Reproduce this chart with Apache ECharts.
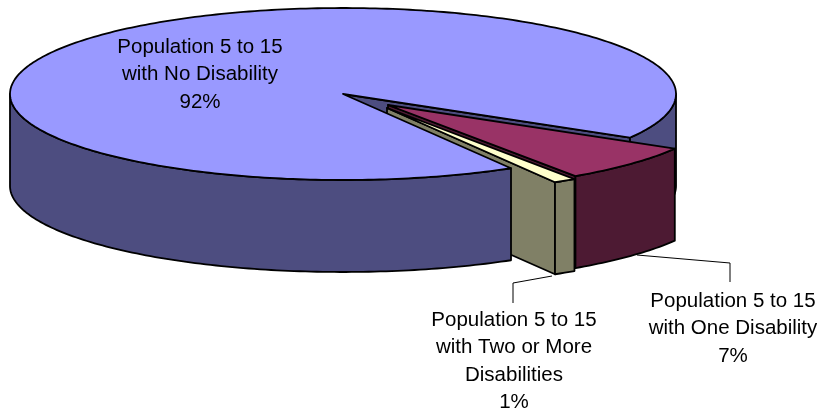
<!DOCTYPE html>
<html>
<head>
<meta charset="utf-8">
<style>html,body{margin:0;padding:0;background:#fff}#c{width:817px;height:413px}</style>
<script src="https://cdn.jsdelivr.net/npm/echarts@6/dist/echarts.min.js"></script>
</head>
<body>
<div id="c"></div>
<script>
// Data
const categories = ['Population 5 to 15\nwith No Disability', 'Population 5 to 15\nwith One Disability', 'Population 5 to 15\nwith Two or More\nDisabilities'];
const shares = [91.9, 7.0, 1.1];
const percentLabels = ['92%', '7%', '1%'];

// Style and layout
const topColors = ['#9999FF', '#993366', '#FFFFCC'];
const wallColors = ['#4D4D80', '#4D1A33', '#808066'];
const G = {cx: 343, cy: 94, rx: 333, ry: 86, depth: 92, start: 59.7};
const offsets = [[0, 0], [45, 11], [44, 14]];
const labelPos = [[200, 74.5], [733, 328.5], [514, 361.5]];
const leaders = [null, [[730, 282], [730, 263], [637, 255]], [[513, 303], [513, 283], [552, 276]]];
const total = shares.reduce((a, b) => a + b, 0);
const ranges = [];
shares.reduce((acc, v) => { const e = acc + v / total * 360; ranges.push([acc, e]); return e; }, G.start);

function pt(i, deg, down) {
  const t = deg * Math.PI / 180;
  return [G.cx + offsets[i][0] + G.rx * Math.cos(t), G.cy + offsets[i][1] + G.ry * Math.sin(t) + (down || 0)];
}
function apex(i, down) { return [G.cx + offsets[i][0], G.cy + offsets[i][1] + (down || 0)]; }
function arc(i, a, b, down) {
  const out = [], n = Math.max(2, Math.ceil(Math.abs(b - a)));
  for (let k = 0; k <= n; k++) out.push(pt(i, a + (b - a) * k / n, down));
  return out;
}
const lineStyle = {stroke: '#000', lineWidth: 1.8, lineJoin: 'round'};
function poly(points, fill) {
  return {type: 'polygon', shape: {points}, style: Object.assign({fill}, lineStyle)};
}
function wall(i, a, b) {
  return poly(arc(i, a, b, 0).concat(arc(i, b, a, G.depth)), wallColors[i]);
}
function cutFace(i, deg) {
  return poly([apex(i), pt(i, deg), pt(i, deg, G.depth), apex(i, G.depth)], wallColors[i]);
}
function topFace(i) {
  const [a, b] = ranges[i];
  return poly([apex(i)].concat(arc(i, a, b, 0)), topColors[i]);
}
// Painter's order: each entry is [slice index, part of that slice]
const paintOrder = [[0, 'back'], [1, 'whole'], [2, 'whole'], [0, 'front']];

function renderSlice(params, api) {
  const i = api.value(0), part = paintOrder[params.dataIndex][1];
  const [a, b] = ranges[i];
  const children = [];
  if (part === 'back') {
    children.push(wall(0, 360, b));
    children.push(cutFace(0, b - 360));
  } else if (part === 'front') {
    children.push(wall(0, a, 180));
    children.push(topFace(0));
  } else {
    children.push(cutFace(i, b));
    children.push(wall(i, a, b));
    children.push(topFace(i));
  }
  return {type: 'group', children};
}
function renderLabel(params, api) {
  const i = params.dataIndex, children = [];
  if (leaders[i]) children.push({type: 'polyline', shape: {points: leaders[i]}, style: {stroke: '#000', lineWidth: 1, fill: 'none'}});
  children.push({type: 'text', x: labelPos[i][0], y: labelPos[i][1], style: {
    text: categories[i] + '\n' + percentLabels[i], fill: '#000',
    font: '20.5px "Liberation Sans", Arial, sans-serif', lineHeight: 27.5, align: 'center', verticalAlign: 'middle'
  }});
  return {type: 'group', children};
}
const chart = echarts.init(document.getElementById('c'), null, {renderer: 'canvas'});
chart.setOption({
  animation: false,
  backgroundColor: '#fff',
  series: [
    {type: 'custom', coordinateSystem: 'none', silent: true, renderItem: renderSlice,
     data: paintOrder.map(p => ({name: categories[p[0]], value: [p[0], shares[p[0]]]}))},
    {type: 'custom', coordinateSystem: 'none', silent: true, renderItem: renderLabel, z: 3,
     data: categories.map((c, i) => ({name: c, value: [i, shares[i]]}))}
  ]
});
</script>
</body>
</html>
